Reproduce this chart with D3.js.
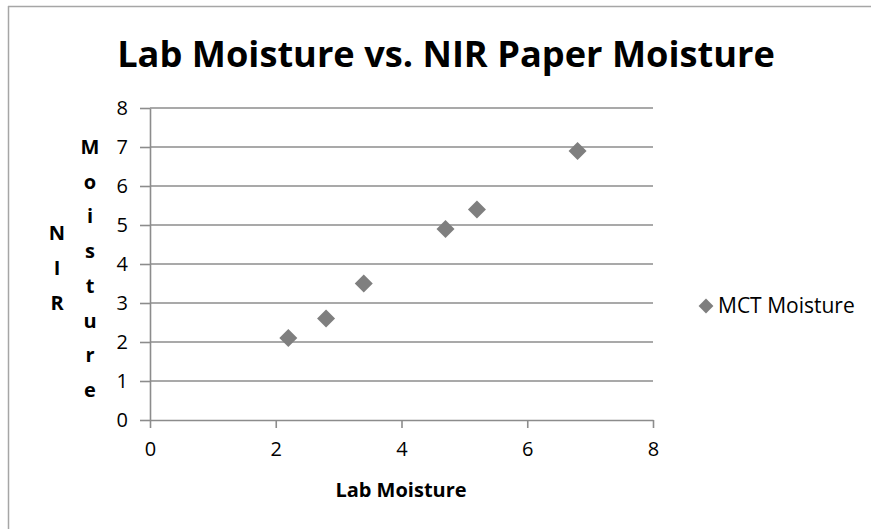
<!DOCTYPE html>
<html>
<head>
<meta charset="utf-8">
<script src="https://cdn.jsdelivr.net/npm/d3@7"></script>
<style>
  body { margin: 0; background: #fff; }
  text { font-family: "Open Sans", "DejaVu Sans", sans-serif; fill: #000; }
</style>
</head>
<body>
<script>
'use strict';

// data
const labMoisture = [2.2, 2.8, 3.4, 4.7, 5.2, 6.8];
const nirMoisture = [2.1, 2.6, 3.5, 4.9, 5.4, 6.9];
const xTicks = [0, 2, 4, 6, 8];
const yTicks = [0, 1, 2, 3, 4, 5, 6, 7, 8];
const seriesName = "MCT Moisture";
const titleText = "Lab Moisture vs. NIR Paper Moisture";
const xTitle = "Lab Moisture";
const yTitleA = "NIR";
const yTitleB = "Moisture";

(function() {
  const width = 871, height = 529;
  const grey = "#8c8c8c";
  const markColor = "#7f7f7f";

  const svg = d3.select('body').append('svg')
    .attr('width', width)
    .attr('height', height);

  // outer frame (only top and left visible in the picture)
  svg.append('line').attr('x1', 8).attr('x2', width).attr('y1', 6.5).attr('y2', 6.5)
    .attr('stroke', '#a6a6a6').attr('stroke-width', 1.5);
  svg.append('line').attr('x1', 8.5).attr('x2', 8.5).attr('y1', 6).attr('y2', height)
    .attr('stroke', '#a6a6a6').attr('stroke-width', 1.5);

  const x = d3.scaleLinear().domain([0, 8]).range([150, 653]);
  const y = d3.scaleLinear().domain([0, 8]).range([420, 108]);

  // horizontal gridlines
  svg.append('g').selectAll('line')
    .data(yTicks.filter(d => d > 0))
    .enter().append('line')
      .attr('x1', x(0)).attr('x2', x(8))
      .attr('y1', d => y(d)).attr('y2', d => y(d))
      .attr('stroke', grey).attr('stroke-width', 1.6);

  // x axis
  const xAxis = svg.append('g')
    .attr('transform', `translate(0, ${y(0)})`)
    .call(d3.axisBottom(x).tickValues(xTicks).tickSize(8).tickPadding(14).tickSizeOuter(0));
  // y axis
  const yAxis = svg.append('g')
    .attr('transform', `translate(${x(0)}, 0)`)
    .call(d3.axisLeft(y).tickValues(yTicks).tickSize(10).tickPadding(12).tickSizeOuter(0));

  [xAxis, yAxis].forEach(g => {
    g.select('.domain').attr('stroke', grey).attr('stroke-width', 1.6);
    g.selectAll('.tick line').attr('stroke', grey).attr('stroke-width', 1.6);
    g.selectAll('.tick text')
      .style('font-family', '"Open Sans", sans-serif')
      .style('font-size', '20px')
      .attr('fill', '#000');
  });
  xAxis.selectAll('.tick text').attr('dy', '0.71em');

  // points
  const diamond = d3.symbol(d3.symbolSquare, 162);
  svg.append('g').selectAll('path')
    .data(labMoisture.map((d, i) => [d, nirMoisture[i]]))
    .enter().append('path')
      .attr('d', diamond)
      .attr('transform', d => `translate(${x(d[0])}, ${y(d[1])}) rotate(45)`)
      .attr('fill', markColor);

  // title, fitted to the width seen in the picture
  const title = svg.append('text')
    .attr('x', 446).attr('y', 67)
    .attr('text-anchor', 'middle')
    .style('font-weight', 'bold')
    .style('font-size', '40px')
    .text(titleText);
  const tw = title.node().getComputedTextLength();
  title.style('font-size', (40 * 658 / tw) + 'px');

  // x axis title
  svg.append('text')
    .attr('x', 401).attr('y', 497)
    .attr('text-anchor', 'middle')
    .style('font-weight', 'bold')
    .style('font-size', '20px')
    .text(xTitle);

  // y axis title: letters stacked in two columns
  svg.append('g').selectAll('text')
    .data(yTitleA.split(''))
    .enter().append('text')
      .attr('x', 57)
      .attr('y', (d, i) => 233 + i * 35)
      .attr('dy', '0.35em')
      .attr('text-anchor', 'middle')
      .style('font-weight', 'bold')
      .style('font-size', '20px')
      .text(d => d);
  svg.append('g').selectAll('text')
    .data(yTitleB.split(''))
    .enter().append('text')
      .attr('x', 90)
      .attr('y', (d, i) => 147 + i * 34.7)
      .attr('dy', '0.35em')
      .attr('text-anchor', 'middle')
      .style('font-weight', 'bold')
      .style('font-size', '20px')
      .text(d => d);

  // legend
  svg.append('path')
    .attr('d', d3.symbol(d3.symbolSquare, 110))
    .attr('transform', 'translate(706, 306) rotate(45)')
    .attr('fill', markColor);
  svg.append('text')
    .attr('x', 718).attr('y', 306)
    .attr('dy', '0.35em')
    .style('font-size', '21px')
    .text(seriesName);
})();
</script>
</body>
</html>
